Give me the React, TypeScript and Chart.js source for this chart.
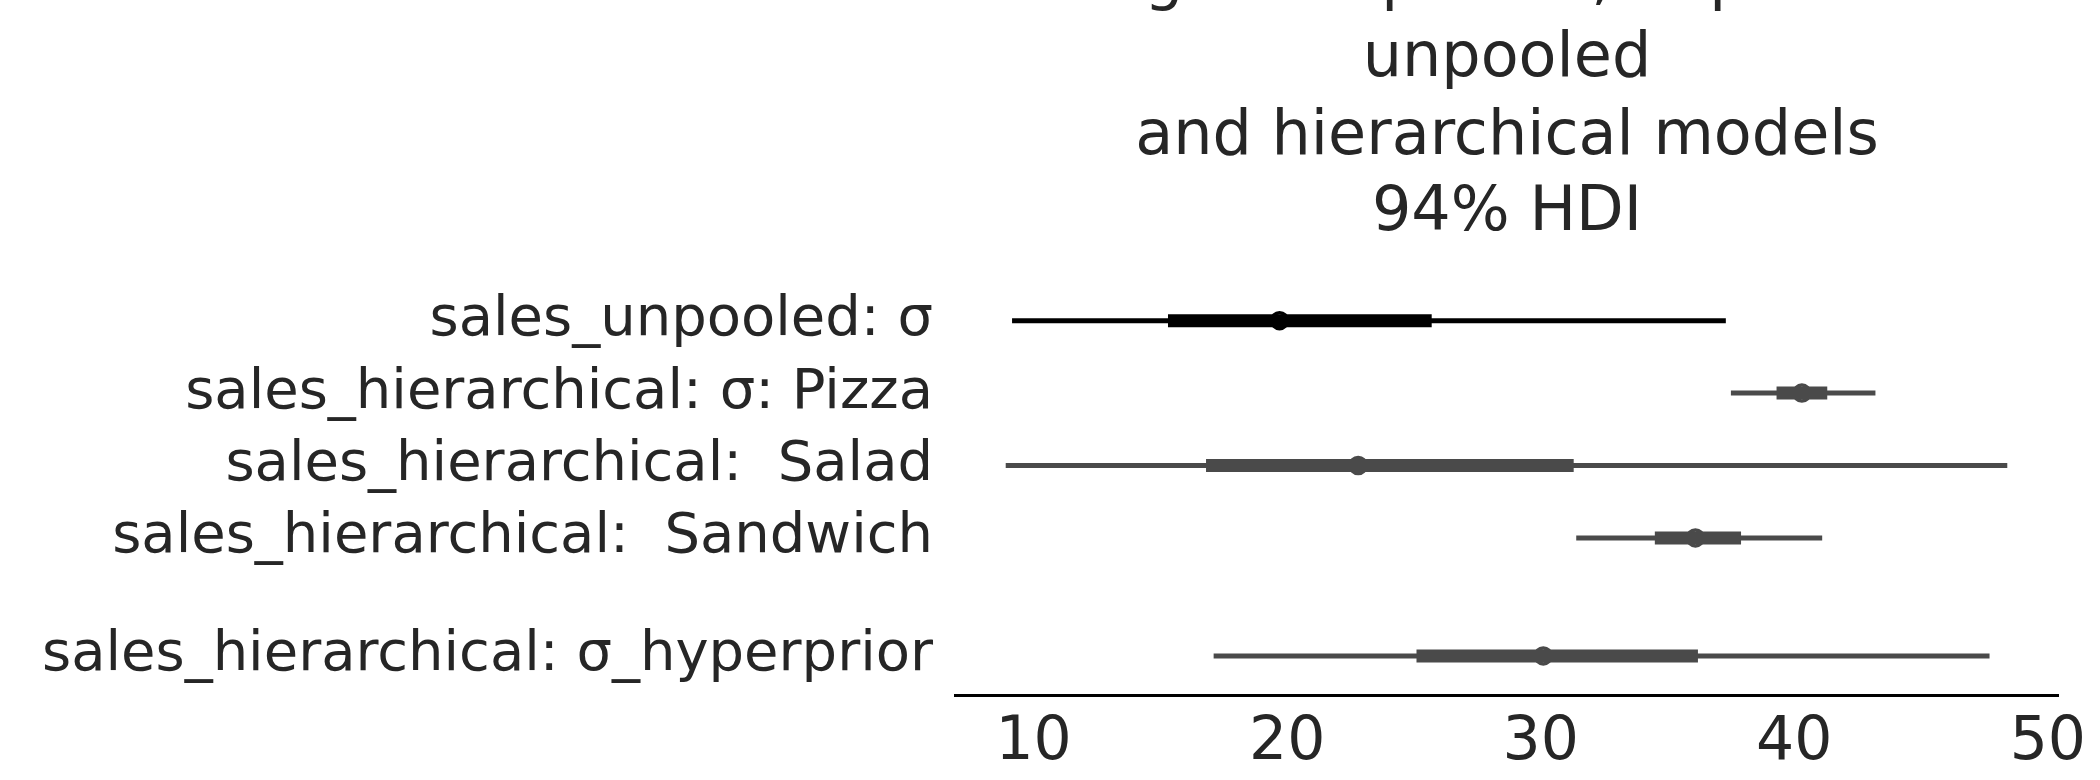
import { useEffect, useRef } from 'react'
import { Chart, registerables } from 'chart.js'

Chart.register(...registerables)

const LABELS = [
  'sales_unpooled: σ',
  'sales_hierarchical: σ: Pizza',
  'sales_hierarchical:  Salad',
  'sales_hierarchical:  Sandwich',
  'sales_hierarchical: σ_hyperprior',
]
const ROWS = [0, 1, 2, 3, 4.63]
const HDI_LOW = [9.15, 37.5, 8.9, 31.4, 17.1]
const HDI_HIGH = [37.3, 43.2, 48.4, 41.1, 47.7]
const IQR_LOW = [15.3, 39.3, 16.8, 34.5, 25.1]
const IQR_HIGH = [25.7, 41.3, 31.3, 37.9, 36.2]
const CENTER = [19.7, 40.3, 22.8, 36.1, 30.1]
const COLORS = ['#000000', '#4a4a4a', '#4a4a4a', '#4a4a4a', '#4a4a4a']
const X_TICKS = [10, 20, 30, 40, 50]
const TITLE = ['sigma of pooled, unpooled', 'unpooled', 'and hierarchical models', '94% HDI']

const FONT = '"DejaVu Sans", sans-serif'

const titlePlugin = {
  id: 'hdiTitle',
  afterDraw(chart: Chart) {
    const ctx = chart.ctx
    ctx.save()
    ctx.fillStyle = '#262626'
    ctx.font = `62px ${FONT}`
    ctx.textAlign = 'center'
    ctx.textBaseline = 'alphabetic'
    const baselines = [-2, 76, 154, 230]
    TITLE.forEach((t, i) => ctx.fillText(t, 1507, baselines[i]))
    ctx.restore()
  },
}

export default function App() {
  const canvasRef = useRef<HTMLCanvasElement>(null)

  useEffect(() => {
    if (!canvasRef.current) return
    document.body.style.margin = '0'

    const datasets: any[] = []
    ROWS.forEach((y, i) => {
      datasets.push({
        data: [{ x: HDI_LOW[i], y }, { x: HDI_HIGH[i], y }],
        showLine: true,
        borderColor: COLORS[i],
        borderWidth: 5,
        pointRadius: 0,
      })
      datasets.push({
        data: [{ x: IQR_LOW[i], y }, { x: IQR_HIGH[i], y }],
        showLine: true,
        borderColor: COLORS[i],
        borderWidth: 13,
        pointRadius: 0,
      })
      datasets.push({
        data: [{ x: CENTER[i], y }],
        pointRadius: 8,
        pointBackgroundColor: '#ffffff',
        pointBorderColor: COLORS[i],
        pointBorderWidth: 3.5,
      })
    })

    const chart = new Chart(canvasRef.current, {
      type: 'scatter',
      data: { datasets },
      plugins: [titlePlugin],
      options: {
        responsive: false,
        animation: false,
        layout: { padding: { top: 270, right: 42, left: 0, bottom: 0 } },
        plugins: { legend: { display: false }, tooltip: { enabled: false } },
        scales: {
          x: {
            type: 'linear',
            min: 6.9,
            max: 50.4,
            grid: { display: false },
            border: { display: true, color: '#000000', width: 3 },
            afterBuildTicks: (s: any) => {
              s.ticks = X_TICKS.map(v => ({ value: v }))
            },
            afterFit: (s: any) => {
              s.height = 85
            },
            ticks: {
              color: '#262626',
              font: { family: FONT, size: 60 },
              padding: 4,
              maxRotation: 0,
            },
          },
          y: {
            type: 'linear',
            reverse: true,
            min: -0.7,
            max: 5.17,
            grid: { display: false },
            border: { display: false },
            afterBuildTicks: (s: any) => {
              s.ticks = ROWS.map(v => ({ value: v }))
            },
            afterFit: (s: any) => {
              s.width = 955
            },
            ticks: {
              color: '#262626',
              font: { family: FONT, size: 56 },
              padding: 14,
              callback: (_v: any, i: number) => LABELS[i],
            },
          },
        },
      },
    })

    return () => chart.destroy()
  }, [])

  return <canvas ref={canvasRef} width={2100} height={780} style={{ display: 'block' }} />
}
